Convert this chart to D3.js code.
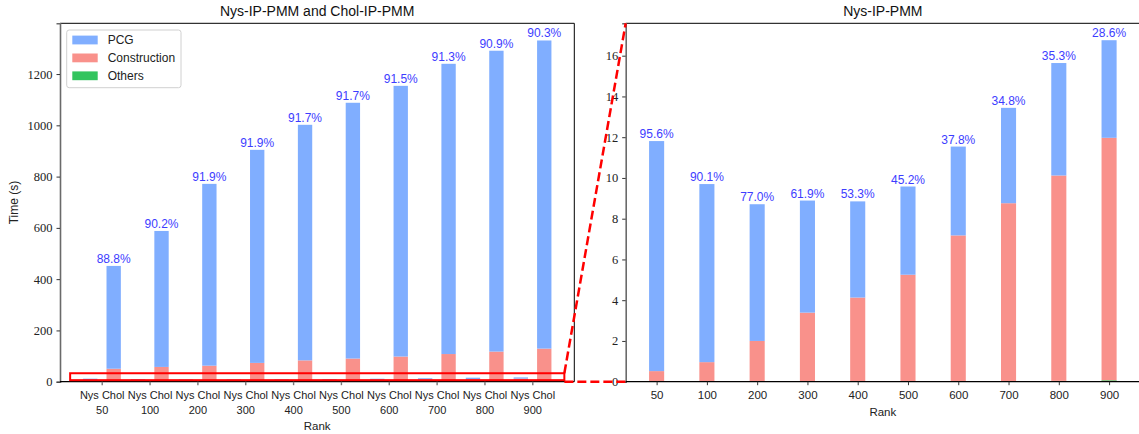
<!DOCTYPE html>
<html>
<head>
<meta charset="utf-8">
<script src="https://cdn.jsdelivr.net/npm/d3@7"></script>
<style>
  html, body { margin: 0; padding: 0; background: #fff; }
  svg { display: block; }
  text { font-family: "Liberation Sans", Arial, sans-serif; }
  .serif text, text.serif { font-family: "Liberation Serif", "Times New Roman", serif; }
</style>
</head>
<body>
<svg id="chart" width="1139" height="434"></svg>
<script>
// Ranks used for the low-rank preconditioners
const ranks = ["50", "100", "200", "300", "400", "500", "600", "700", "800", "900"];

// Nys-IP-PMM time breakdown (seconds)
const nysPCG          = [11.29, 8.74, 6.71, 5.50, 4.72, 4.33, 4.36, 4.68, 5.52, 4.79];
const nysConstruction = [0.49, 0.95, 1.98, 3.37, 4.11, 5.22, 7.15, 8.73, 10.08, 11.90];
const nysOthers       = [0.03, 0.01, 0.02, 0.02, 0.02, 0.03, 0.03, 0.03, 0.04, 0.07];

// Chol-IP-PMM time breakdown (seconds)
const cholPCG          = [401.0, 530.4, 709.2, 831.1, 918.8, 997.7, 1055.9, 1132.1, 1173.5, 1201.9];
const cholConstruction = [50.1, 57.2, 62.0, 72.8, 82.7, 89.8, 97.6, 107.4, 117.0, 128.6];
const cholOthers       = [0.5, 0.4, 0.5, 0.5, 0.5, 0.5, 0.5, 0.5, 0.5, 0.5];

const leftTicks  = [0, 200, 400, 600, 800, 1000, 1200];
const rightTicks = [0, 2, 4, 6, 8, 10, 12, 14, 16];

const seriesNames = ["PCG", "Construction", "Others"];
const colors = { PCG: "#80aeff", Construction: "#f9918b", Others: "#33c45e" };
const labelColor = "#3d3dff";

// Region of the left panel that the right panel magnifies (data units)
const zoomBox = { x0: -0.66, x1: 9.67, y0: 6, y1: 33 };

const svg = d3.select("#chart");

const L = { left: 60, right: 574.3, top: 23.3, bottom: 381.7 };
const R = { left: 625.7, right: 1140, top: 23.3, bottom: 381.7 };

const xL = d3.scaleLinear().domain([-0.872, 9.878]).range([L.left, L.right]);
const yL = d3.scaleLinear().domain([0, 1398]).range([L.bottom, L.top]);
const xR = d3.scaleLinear().domain([-0.615, 9.615]).range([R.left, R.right]);
const yR = d3.scaleLinear().domain([0, 17.59]).range([R.bottom, R.top]);

function rows(pcg, cons, oth) {
  return ranks.map((r, i) => ({ i, rank: r, Others: oth[i], Construction: cons[i], PCG: pcg[i] }));
}
const stack = d3.stack().keys(["Others", "Construction", "PCG"]);

function drawBars(g, data, x, y, offset, width) {
  const layers = stack(data);
  g.selectAll(null).data(layers).join("g")
    .attr("fill", d => colors[d.key])
    .selectAll("rect").data(d => d).join("rect")
      .attr("x", d => x(d.data.i + offset - width / 2))
      .attr("width", d => x(d.data.i + offset + width / 2) - x(d.data.i + offset - width / 2))
      .attr("y", d => y(d[1]))
      .attr("height", d => y(d[0]) - y(d[1]));
}

function drawPct(g, data, x, y, offset) {
  g.selectAll(null).data(data).join("text")
    .attr("x", d => x(d.i + offset))
    .attr("y", d => y(d.PCG + d.Construction + d.Others) - 3)
    .attr("text-anchor", "middle")
    .attr("font-size", 12)
    .attr("fill", labelColor)
    .text(d => (100 * d.PCG / (d.PCG + d.Construction + d.Others)).toFixed(1) + "%");
}

function drawFrame(g, box, x, y, ticks) {
  // top and right spines
  g.append("line").attr("x1", box.left).attr("x2", box.right).attr("y1", box.top).attr("y2", box.top)
    .attr("stroke", "#000").attr("stroke-width", 1);
  g.append("line").attr("x1", box.right).attr("x2", box.right).attr("y1", box.top).attr("y2", box.bottom)
    .attr("stroke", "#000").attr("stroke-width", 1);
  // y axis
  const ya = g.append("g").attr("class", "serif").attr("transform", `translate(${box.left},0)`)
    .call(d3.axisLeft(y).tickValues(ticks).tickSize(3.5).tickPadding(4).tickFormat(d3.format("d")));
  ya.select(".domain").attr("stroke", "#6a6a6a").attr("stroke-width", 1.6);
  ya.selectAll(".tick line").attr("stroke", "#333");
  ya.selectAll(".tick text").attr("font-size", 12.5).attr("fill", "#222")
    .attr("font-family", "'Liberation Serif', serif");
  return ya;
}

const nysData = rows(nysPCG, nysConstruction, nysOthers);
const cholData = rows(cholPCG, cholConstruction, cholOthers);

// ---------- Left panel: both methods ----------
const gL = svg.append("g");
drawBars(gL, nysData, xL, yL, -0.24, 0.3);
drawBars(gL, cholData, xL, yL, 0.25, 0.3);
drawPct(gL, cholData, xL, yL, 0.25);
drawFrame(gL, L, xL, yL, leftTicks);

const xaL = gL.append("g").attr("transform", `translate(0,${L.bottom})`)
  .call(d3.axisBottom(xL).tickValues(d3.range(ranks.length)).tickSize(3.5).tickFormat(() => ""));
xaL.select(".domain").attr("d", `M${L.left},0H${L.right}`).attr("stroke", "#000").attr("stroke-width", 1.3);
xaL.selectAll(".tick line").attr("stroke", "#777").attr("stroke-width", 1.4);
const tlL = xaL.selectAll(".tick").append("text").attr("fill", "#222").attr("font-size", 11)
  .attr("text-anchor", "middle");
tlL.append("tspan").attr("x", 0).attr("y", 17.3).text("Nys Chol");
tlL.append("tspan").attr("x", 0).attr("y", 32).text((d, i) => ranks[i]);

gL.append("text").attr("x", (L.left + L.right) / 2).attr("y", 430).attr("text-anchor", "middle")
  .attr("font-size", 11.5).attr("fill", "#222").text("Rank");
gL.append("text").attr("transform", `translate(18,${(L.top + L.bottom) / 2}) rotate(-90)`)
  .attr("text-anchor", "middle").attr("font-size", 12).attr("fill", "#222").text("Time (s)");
gL.append("text").attr("x", (L.left + L.right) / 2).attr("y", 16).attr("text-anchor", "middle")
  .attr("font-size", 14).attr("fill", "#111").text("Nys-IP-PMM and Chol-IP-PMM");

// legend
const lg = gL.append("g").attr("transform", "translate(66.7,30)");
lg.append("rect").attr("width", 114.3).attr("height", 57.7).attr("rx", 2.5)
  .attr("fill", "#fff").attr("fill-opacity", 0.8).attr("stroke", "#d0d0d0").attr("stroke-width", 1);
seriesNames.forEach((name, k) => {
  const cy = 10 + k * 17.9;
  lg.append("rect").attr("x", 5.6).attr("y", cy - 4.4).attr("width", 25.4).attr("height", 8.8)
    .attr("fill", colors[name]);
  lg.append("text").attr("x", 41).attr("y", cy + 4.2).attr("font-size", 12).attr("fill", "#222").text(name);
});

// ---------- Right panel: Nys-IP-PMM only ----------
const gR = svg.append("g");
drawBars(gR, nysData, xR, yR, 0, 0.3);
drawPct(gR, nysData, xR, yR, 0);
drawFrame(gR, R, xR, yR, rightTicks);

const xaR = gR.append("g").attr("transform", `translate(0,${R.bottom})`)
  .call(d3.axisBottom(xR).tickValues(d3.range(ranks.length)).tickSize(3.5).tickFormat(i => ranks[i]));
xaR.select(".domain").attr("d", `M${R.left},0H${R.right}`).attr("stroke", "#000").attr("stroke-width", 1.3);
xaR.selectAll(".tick line").attr("stroke", "#333");
xaR.selectAll(".tick text").attr("font-size", 11.5).attr("fill", "#222").attr("dy", null).attr("y", 17.3)
  .attr("font-family", "'Liberation Sans', sans-serif");

gR.append("text").attr("x", (R.left + R.right) / 2).attr("y", 416).attr("text-anchor", "middle")
  .attr("font-size", 11.5).attr("fill", "#222").text("Rank");
gR.append("text").attr("x", (R.left + R.right) / 2).attr("y", 16).attr("text-anchor", "middle")
  .attr("font-size", 14).attr("fill", "#111").text("Nys-IP-PMM");

// ---------- Zoom indicator ----------
const gZ = svg.append("g");
gZ.append("rect")
  .attr("x", xL(zoomBox.x0)).attr("y", yL(zoomBox.y1))
  .attr("width", xL(zoomBox.x1) - xL(zoomBox.x0)).attr("height", yL(zoomBox.y0) - yL(zoomBox.y1))
  .attr("fill", "none").attr("stroke", "#ff0000").attr("stroke-width", 2);
const connectors = [
  [[xL(zoomBox.x1), yL(zoomBox.y1)], [R.left, yR(yR.domain()[1])]],
  [[xL(zoomBox.x1), yL(0)], [R.left, yR(0)]]
];
gZ.selectAll("line.conn").data(connectors).join("line").attr("class", "conn")
  .attr("x1", d => d[0][0]).attr("y1", d => d[0][1])
  .attr("x2", d => d[1][0]).attr("y2", d => d[1][1])
  .attr("stroke", "#ff0000").attr("stroke-width", 2.5).attr("stroke-dasharray", "9,4");
</script>
</body>
</html>
